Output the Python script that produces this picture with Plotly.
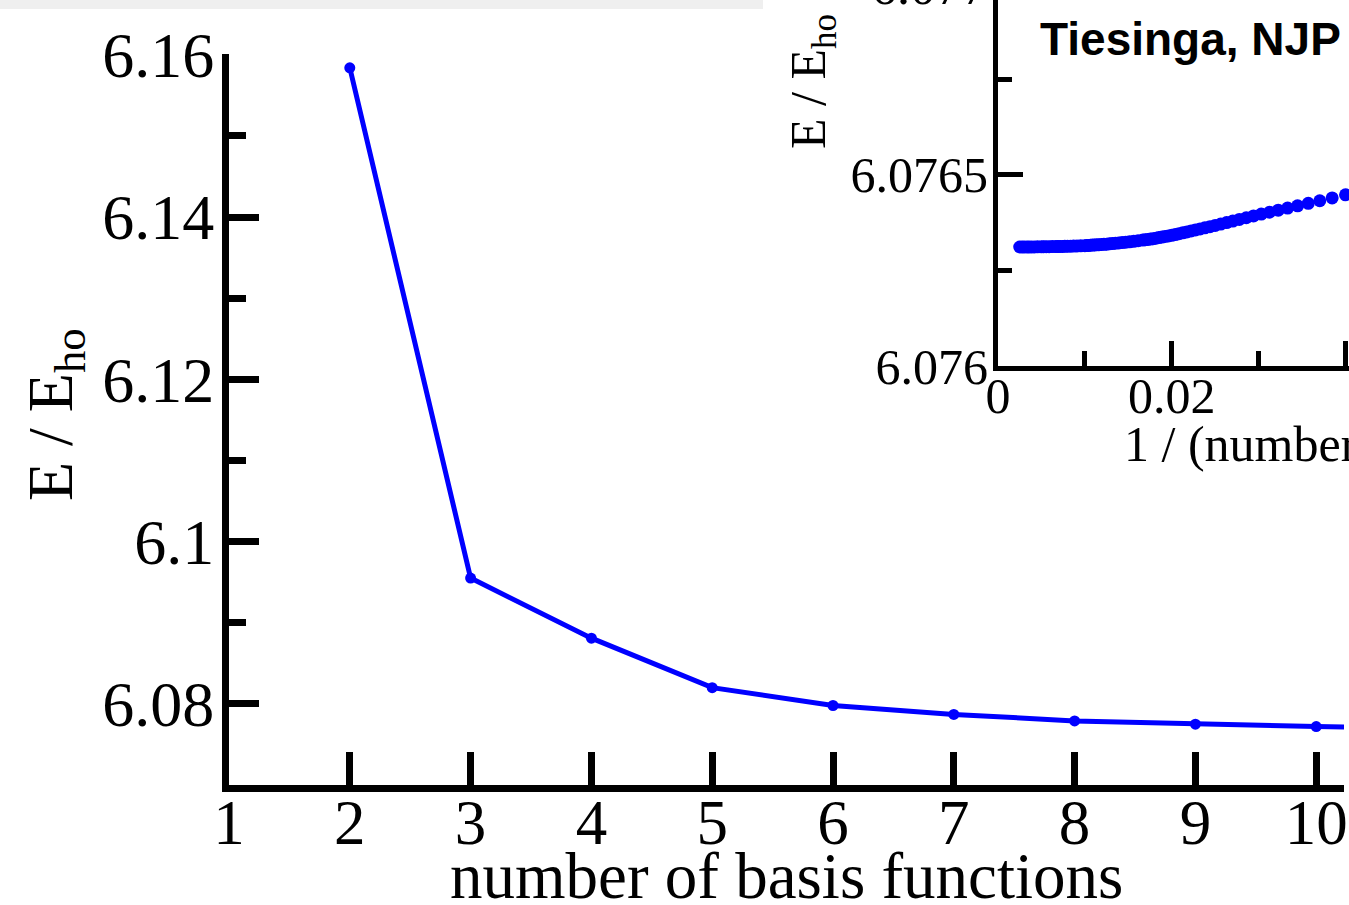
import plotly.graph_objects as go

W, H = 1349, 905

# ---- main plot data ----
basis_n = [2, 3, 4, 5, 6, 7, 8, 9, 10, 11]
energy = [6.1584, 6.0955, 6.0881, 6.0820, 6.0798, 6.0787, 6.0779, 6.0775, 6.0772, 6.0770]

# ---- inset data: energy versus 1/N ----
inset_n = [25, 26, 27, 28, 29, 30, 31, 32, 33, 34,
           35, 36, 37, 38, 39, 40, 41, 42, 43, 44,
           45, 46, 47, 48, 49, 50, 51, 52, 53, 54,
           55, 56, 57, 58, 59, 60,
           62, 64, 66, 68, 70, 72, 74, 76, 78, 80,
           82, 84, 86, 88, 90, 92, 94, 96, 98, 100,
           105, 110, 115, 120, 125, 130, 135, 140, 145, 150,
           160, 170, 180, 190, 200,
           220, 240, 260, 280, 300,
           330, 360, 400]
inset_energy = [6.0764480, 6.0764400, 6.0764326, 6.0764257, 6.0764193, 6.0764133, 6.0764078, 6.0764025, 6.0763976, 6.0763927,
                6.0763880, 6.0763836, 6.0763794, 6.0763754, 6.0763716, 6.0763680, 6.0763648, 6.0763618, 6.0763589, 6.0763562,
                6.0763535, 6.0763510, 6.0763487, 6.0763463, 6.0763441, 6.0763420, 6.0763404, 6.0763389, 6.0763375, 6.0763361,
                6.0763347, 6.0763334, 6.0763322, 6.0763312, 6.0763304, 6.0763295,
                6.0763279, 6.0763264, 6.0763250, 6.0763239, 6.0763230, 6.0763221, 6.0763213, 6.0763205, 6.0763197, 6.0763190,
                6.0763185, 6.0763180, 6.0763176, 6.0763172, 6.0763168, 6.0763164, 6.0763160, 6.0763157, 6.0763153, 6.0763150,
                6.0763146, 6.0763143, 6.0763140, 6.0763137, 6.0763134, 6.0763132, 6.0763130, 6.0763128, 6.0763128, 6.0763127,
                6.0763125, 6.0763124, 6.0763122, 6.0763121, 6.0763120,
                6.0763119, 6.0763118, 6.0763118, 6.0763117, 6.0763117,
                6.0763116, 6.0763116, 6.0763115]
inset_x = [1.0 / n for n in inset_n]

BLUE = "#0000ff"
SERIF = "Liberation Serif"


def px(p):
    return p / W


def py(p):
    return 1 - p / H


fig = go.Figure()
fig.add_trace(go.Scatter(x=basis_n, y=energy, mode="lines+markers",
                         line=dict(color=BLUE, width=5),
                         marker=dict(color=BLUE, size=11),
                         xaxis="x", yaxis="y", showlegend=False, hoverinfo="skip"))
fig.add_trace(go.Scatter(x=inset_x, y=inset_energy, mode="markers",
                         marker=dict(color=BLUE, size=13),
                         xaxis="x2", yaxis="y2", showlegend=False, hoverinfo="skip"))

axis_common = dict(showline=True, linecolor="black", ticks="inside", tickcolor="black",
                   showgrid=False, zeroline=False, mirror=False, automargin=False)

fig.update_layout(
    width=W, height=H, autosize=False,
    margin=dict(l=0, r=0, t=0, b=0, pad=0),
    paper_bgcolor="white", plot_bgcolor="white",
    showlegend=False,
    xaxis=dict(**axis_common, domain=[px(229), px(1344)], range=[1, 10.23], anchor="y",
               linewidth=7, ticklen=33, tickwidth=7, tick0=1, dtick=1,
               tickfont=dict(family=SERIF, size=63, color="black"), ticklabelstandoff=-24),
    yaxis=dict(**axis_common, domain=[py(785), py(54)], range=[6.07, 6.1601], anchor="x",
               linewidth=7, ticklen=30, tickwidth=7, tick0=6.0, dtick=0.02,
               minor=dict(ticks="inside", ticklen=17, tickwidth=7, tickcolor="black",
                          tick0=6.0, dtick=0.01, showgrid=False),
               tickfont=dict(family=SERIF, size=64, color="black"), ticklabelstandoff=-5),
    xaxis3=dict(**axis_common, domain=[px(229), px(763)], range=[1, 5.421], anchor="y", side="top",
                linewidth=7, ticklen=33, tickwidth=7, tick0=1, dtick=1, showticklabels=False),
    yaxis3=dict(**axis_common, domain=[py(785), py(488)], range=[6.07, 6.10653], anchor="x", side="right",
                linewidth=7, ticklen=30, tickwidth=7, tick0=6.0, dtick=0.02, showticklabels=False,
                minor=dict(ticks="inside", ticklen=17, tickwidth=7, tickcolor="black",
                           tick0=6.0, dtick=0.01, showgrid=False)),
    xaxis2=dict(**axis_common, domain=[px(998), 1], range=[0, 0.0404], anchor="y2",
                linewidth=5, ticklen=25, tickwidth=5, tick0=0, dtick=0.02,
                minor=dict(ticks="inside", ticklen=15, tickwidth=5, tickcolor="black",
                           tick0=0, dtick=0.01, showgrid=False),
                tickfont=dict(family=SERIF, size=50, color="black"), ticklabelstandoff=-18),
    yaxis2=dict(**axis_common, domain=[py(366), 1], range=[6.076, 6.076958], anchor="x2",
                linewidth=5, ticklen=25, tickwidth=5, tick0=6.076, dtick=0.0005,
                minor=dict(ticks="inside", ticklen=14, tickwidth=5, tickcolor="black",
                           tick0=6.076, dtick=0.00025, showgrid=False),
                tickfont=dict(family=SERIF, size=50, color="black"), ticklabelstandoff=-5),
    shapes=[dict(type="rect", xref="paper", yref="paper", x0=0, x1=px(763), y0=py(9), y1=1,
                 fillcolor="#efefef", line=dict(width=0), layer="below")],
    annotations=[
        dict(text="E / E<sub>ho</sub>", x=px(55), y=py(415), xref="paper", yref="paper",
             xanchor="center", yanchor="middle",
             textangle=-90, showarrow=False, font=dict(family=SERIF, size=64, color="black")),
        dict(text="number of basis functions", x=px(786), y=py(876), xref="paper", yref="paper",
             xanchor="center", yanchor="middle",
             showarrow=False, font=dict(family=SERIF, size=65, color="black")),
        dict(text="E / E<sub>ho</sub>", x=px(812), y=py(82), xref="paper", yref="paper",
             xanchor="center", yanchor="middle",
             textangle=-90, showarrow=False, font=dict(family=SERIF, size=50, color="black")),
        dict(text="1 / (number of basis functions)", x=px(1122), y=py(444), xref="paper", yref="paper",
             xanchor="left", yanchor="middle", showarrow=False,
             font=dict(family=SERIF, size=50, color="black")),
        dict(text="<b>Tiesinga, NJP</b>", x=px(1038), y=py(39), xref="paper", yref="paper",
             xanchor="left", yanchor="middle", showarrow=False,
             font=dict(family="Liberation Sans", size=46, color="black")),
        dict(text="6.077", x=px(990), y=1, yshift=14, xref="paper", yref="paper",
             xanchor="right", yanchor="middle", showarrow=False,
             font=dict(family=SERIF, size=52, color="black")),
    ],
)

fig.write_html("out.html", config={"displayModeBar": False},
               post_script="document.body.style.margin='0px';document.body.style.overflow='hidden';")
